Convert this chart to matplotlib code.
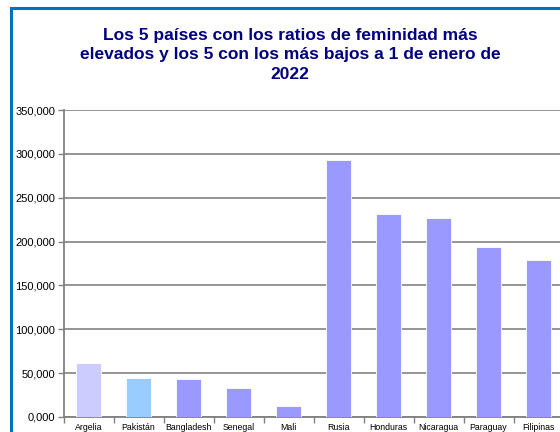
import matplotlib
matplotlib.use("Agg")
import matplotlib.pyplot as plt
from matplotlib.patches import Rectangle
from matplotlib.ticker import FuncFormatter, FixedLocator
import numpy as np

plt.rcParams['font.family'] = ['Liberation Sans', 'DejaVu Sans']

# data
paises = ['Argelia', 'Pakistán', 'Bangladesh', 'Senegal', 'Mali',
          'Rusia', 'Honduras', 'Nicaragua', 'Paraguay', 'Filipinas']
ratios = [62.0, 45.0, 43.0, 32.5, 12.0, 292.5, 231.5, 227.0, 193.5, 179.0]
colores = ['#CCCCFF', '#99CCFF'] + ['#9999FF'] * 8
titulo = ('Los 5 países con los ratios de feminidad más\n'
          'elevados y los 5 con los más bajos a 1 de enero de\n2022')

W, H = 560, 432
fig = plt.figure(figsize=(W / 100, H / 100), dpi=100)

# blue chart border (clipped at right/bottom like the original)
fig.patches.append(Rectangle((11 / W, -0.05), 1.1, (H - 8) / H + 0.05,
                             transform=fig.transFigure, fill=False,
                             edgecolor='#0070C0', linewidth=2.2))

ax = fig.add_axes([63.5 / W, 15 / H, 500 / W, 307 / H])
x = np.arange(len(paises))
ax.bar(x, ratios, width=0.5, color=colores, edgecolor='white',
       linewidth=0.6, zorder=3)

ax.set_xlim(-0.5, len(paises) - 0.5)
ax.set_ylim(0, 350)
ax.yaxis.set_major_locator(FixedLocator(np.arange(0, 351, 50)))
ax.yaxis.set_major_formatter(
    FuncFormatter(lambda v, p: '{:,.3f}'.format(v).replace('.', '#')
                  .replace(',', '.').replace('#', ',')))
ax.grid(axis='y', color='#8c8c8c', linewidth=1.3, zorder=1)

ax.set_xticks(x)
ax.set_xticklabels(paises, fontsize=6.3)
ax.set_xticks(np.arange(-0.5, len(paises), 1), minor=True)
ax.tick_params(axis='x', which='major', length=0, pad=4)
ax.tick_params(axis='x', which='minor', length=4, color='#808080', width=1)
ax.tick_params(axis='y', length=4, color='#808080', width=1,
               labelsize=8, pad=2)

for s in ['top', 'right']:
    ax.spines[s].set_visible(False)
for s in ['left', 'bottom']:
    ax.spines[s].set_color('#808080')
    ax.spines[s].set_linewidth(1.3)

fig.text(290 / W, 1 - 55 / H, titulo, ha='center', va='center',
         fontsize=12.5, fontweight='bold', color='#000080', linespacing=1.38)

fig.savefig('out.png', dpi=100)
